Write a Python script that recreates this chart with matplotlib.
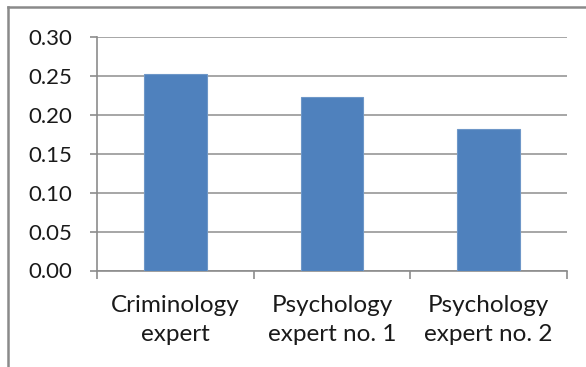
import matplotlib
matplotlib.use("Agg")
import matplotlib.pyplot as plt
from matplotlib.lines import Line2D

categories = ["Criminology\nexpert", "Psychology\nexpert no. 1", "Psychology\nexpert no. 2"]
values = [0.252, 0.223, 0.182]
y_ticks = [0.00, 0.05, 0.10, 0.15, 0.20, 0.25, 0.30]

plt.rcParams["font.family"] = ["Lato", "DejaVu Sans"]

W, H = 586, 367
fig = plt.figure(figsize=(W / 100, H / 100), dpi=100)
ax = fig.add_axes([97 / W, 1 - 270.5 / H, (567 - 97) / W, (270.5 - 37) / H])

x = list(range(len(categories)))
ax.bar(x, values, width=0.40, color="#4f81bd", edgecolor="#6e97c8", linewidth=0.8, zorder=3)

ax.set_xlim(-0.5, len(categories) - 0.5)
ax.set_ylim(0, 0.30)
ax.set_yticks(y_ticks)
ax.set_yticklabels([f"{t:.2f}" for t in y_ticks])
ax.yaxis.grid(True, color="#a6a6a6", linewidth=1.4, zorder=0)

# category boundaries get the tick marks, names sit between them
ax.set_xticks([i - 0.5 for i in range(len(categories) + 1)])
ax.set_xticklabels([])
ax.set_xticks(x, minor=True)
ax.set_xticklabels(categories, minor=True, fontsize=17.5, color="#1a1a1a", linespacing=1.45)
ax.tick_params(axis="x", which="minor", length=0, pad=18)
ax.tick_params(axis="x", which="major", length=5.5, width=1.2, color="#8c8c8c")
ax.tick_params(axis="y", length=5, width=1.2, color="#8c8c8c", labelsize=16,
               labelcolor="#1a1a1a", pad=13)

for side in ["top", "right"]:
    ax.spines[side].set_visible(False)
for side in ["left", "bottom"]:
    ax.spines[side].set_color("#8c8c8c")
    ax.spines[side].set_linewidth(1.2)

# outer chart frame
fig.add_artist(Line2D([8 / W, 8 / W], [0, 1 - 7 / H], transform=fig.transFigure,
                      color="#8a8a8a", linewidth=1.8))
fig.add_artist(Line2D([8 / W, 1], [1 - 7 / H, 1 - 7 / H], transform=fig.transFigure,
                      color="#8a8a8a", linewidth=1.8))

fig.savefig("out.png", dpi=100)
